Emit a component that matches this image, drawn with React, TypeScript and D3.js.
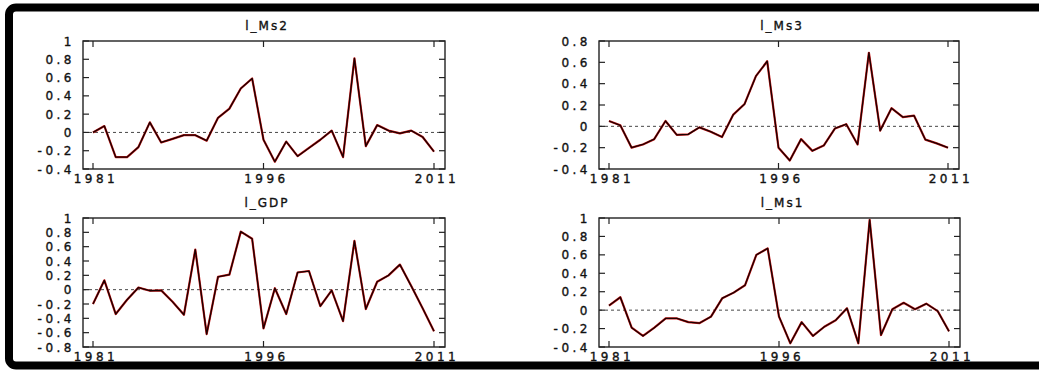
import React from "react";
import * as d3 from "d3";

// annual observations
const years = [
  1981, 1982, 1983, 1984, 1985, 1986, 1987, 1988, 1989, 1990, 1991, 1992, 1993, 1994, 1995, 1996,
  1997, 1998, 1999, 2000, 2001, 2002, 2003, 2004, 2005, 2006, 2007, 2008, 2009, 2010, 2011,
];
const yearTicks = [1981, 1996, 2011];

const lMs2 = [
  0.0, 0.07, -0.27, -0.27, -0.16, 0.11, -0.11, -0.07, -0.03, -0.03, -0.09, 0.16, 0.26, 0.48, 0.59,
  -0.08, -0.32, -0.1, -0.26, -0.17, -0.08, 0.02, -0.27, 0.81, -0.15, 0.08, 0.02, -0.01, 0.02, -0.05, -0.21,
];
const lMs3 = [
  0.05, 0.01, -0.2, -0.17, -0.12, 0.05, -0.08, -0.075, -0.01, -0.05, -0.1, 0.11, 0.21, 0.47, 0.61,
  -0.2, -0.32, -0.12, -0.23, -0.18, -0.02, 0.02, -0.17, 0.69, -0.04, 0.17, 0.087, 0.1, -0.125, -0.16, -0.2,
];
const lGdp = [
  -0.2, 0.13, -0.34, -0.14, 0.03, -0.015, -0.01, -0.17, -0.35, 0.56, -0.62, 0.18, 0.21, 0.81, 0.71,
  -0.54, 0.02, -0.34, 0.24, 0.26, -0.23, -0.01, -0.44, 0.68, -0.27, 0.11, 0.2, 0.35, 0.05, -0.26, -0.58,
];
const lMs1 = [
  0.05, 0.14, -0.19, -0.28, -0.19, -0.09, -0.09, -0.13, -0.14, -0.07, 0.13, 0.19, 0.27, 0.6, 0.67,
  -0.07, -0.36, -0.13, -0.28, -0.18, -0.11, 0.02, -0.36, 0.98, -0.27, 0.01, 0.08, 0.01, 0.07, -0.01, -0.23,
];

const ticksMs2 = [1, 0.8, 0.6, 0.4, 0.2, 0, -0.2, -0.4];
const ticksMs3 = [0.8, 0.6, 0.4, 0.2, 0, -0.2, -0.4];
const ticksGdp = [1, 0.8, 0.6, 0.4, 0.2, 0, -0.2, -0.4, -0.6, -0.8];
const ticksMs1 = [1, 0.8, 0.6, 0.4, 0.2, 0, -0.2, -0.4];

const W = 1039;
const H = 370;
const font = "'DejaVu Sans', sans-serif";

type PanelProps = {
  title: string;
  values: number[];
  ticks: number[];
  x0: number;
  x1: number;
  y0: number;
  y1: number;
};

const labelStyle = {
  fontFamily: font,
  fontSize: 12,
  fill: "#111",
  stroke: "#111",
  strokeWidth: 0.35,
};

const Panel = ({ title, values, ticks, x0, x1, y0, y1 }: PanelProps) => {
  const x = d3.scaleLinear().domain([1981, 2011]).range([x0 + 10, x1 - 11]);
  const y = d3
    .scaleLinear()
    .domain([d3.min(ticks)!, d3.max(ticks)!])
    .range([y1, y0]);
  const line = d3
    .line<number>()
    .x((_, i) => x(years[i]))
    .y((d) => y(d));
  const path = line(values) || "";
  const tl = 6;
  return (
    <g>
      <text x={(x0 + x1) / 2 + 3} y={y0 - 11} textAnchor="middle" letterSpacing={2} style={labelStyle}>
        {title}
      </text>
      {/* zero line */}
      <line
        x1={x0}
        x2={x1}
        y1={y(0)}
        y2={y(0)}
        stroke="#333"
        strokeWidth={0.9}
        strokeDasharray="3,3"
      />
      {/* y ticks */}
      {ticks.map((t) => (
        <g key={"y" + t}>
          <line x1={x0} x2={x0 + tl} y1={y(t)} y2={y(t)} stroke="#222" strokeWidth={1.2} />
          <line x1={x1 - tl} x2={x1} y1={y(t)} y2={y(t)} stroke="#222" strokeWidth={1.2} />
          <text x={x0 - 8} y={y(t) + 4.5} textAnchor="end" letterSpacing={3.5} style={labelStyle}>
            {String(t)}
          </text>
        </g>
      ))}
      {/* x ticks */}
      {yearTicks.map((t) => (
        <g key={"x" + t}>
          <line x1={x(t)} x2={x(t)} y1={y0} y2={y0 + tl} stroke="#222" strokeWidth={1.2} />
          <line x1={x(t)} x2={x(t)} y1={y1 - tl} y2={y1} stroke="#222" strokeWidth={1.2} />
          <text x={x(t) + 3} y={y1 + 14} textAnchor="middle" letterSpacing={3.5} style={labelStyle}>
            {t}
          </text>
        </g>
      ))}
      <path d={path} fill="none" stroke="#c81818" strokeWidth={2.2} strokeLinejoin="round" />
      <path d={path} fill="none" stroke="#1a0000" strokeWidth={1.3} strokeLinejoin="round" />
      <rect x={x0} y={y0} width={x1 - x0} height={y1 - y0} fill="none" stroke="#222" strokeWidth={1.4} />
    </g>
  );
};

export default function App() {
  return (
    <div style={{ position: "fixed", left: 0, top: 0 }}>
      <svg width={W} height={H} style={{ display: "block", background: "#fff" }}>
        <rect x={9} y={7.5} width={W + 20} height={H - 12} rx={7} fill="none" stroke="#000" strokeWidth={8} />
        <Panel title="l_Ms2" values={lMs2} ticks={ticksMs2} x0={83} x1={445} y0={41} y1={169} />
        <Panel title="l_Ms3" values={lMs3} ticks={ticksMs3} x0={599} x1={959} y0={41} y1={169} />
        <Panel title="l_GDP" values={lGdp} ticks={ticksGdp} x0={83} x1={445} y0={218} y1={347} />
        <Panel title="l_Ms1" values={lMs1} ticks={ticksMs1} x0={599} x1={960} y0={218} y1={347} />
      </svg>
    </div>
  );
}
